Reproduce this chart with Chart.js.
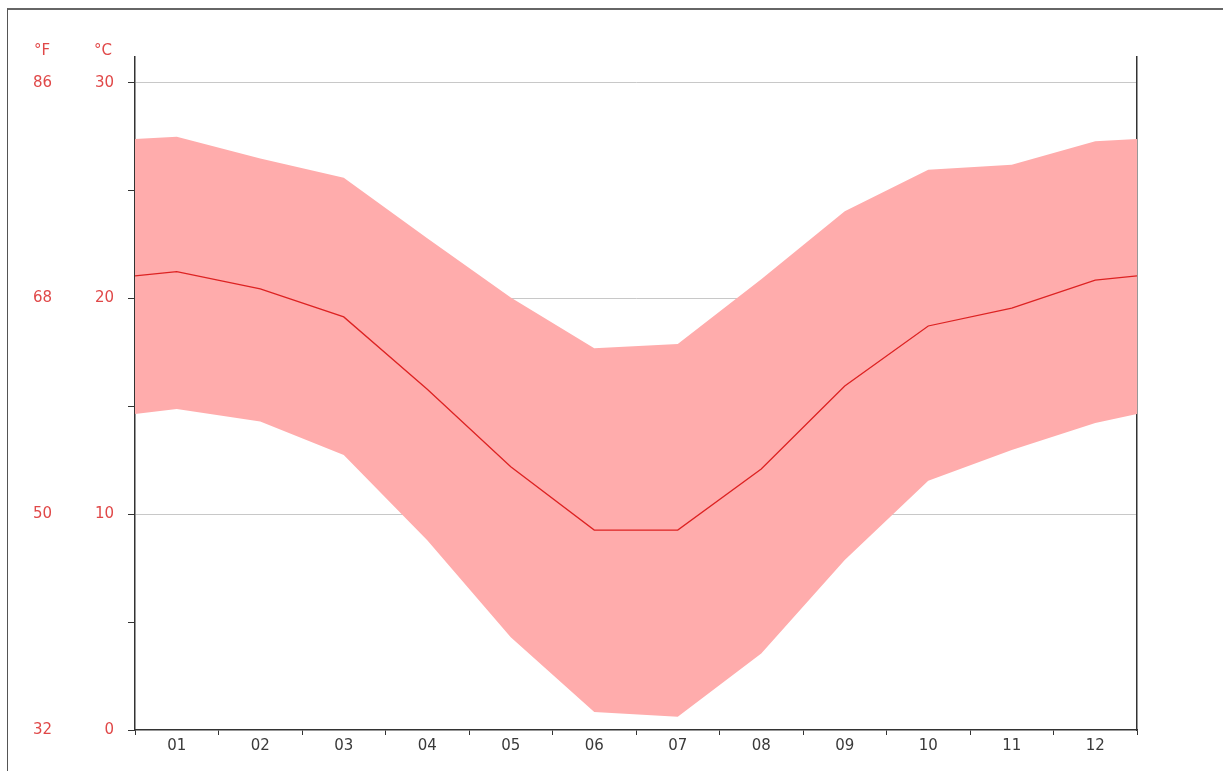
<!DOCTYPE html>
<html>
<head>
<meta charset="utf-8">
<script src="https://cdn.jsdelivr.net/npm/chart.js@4/dist/chart.umd.min.js"></script>
<style>
  html,body{margin:0;padding:0;background:#fff;}
  #wrap{position:relative;width:1223px;height:771px;overflow:hidden;}
  #frame{position:absolute;left:7px;top:8px;width:1300px;height:900px;border-left:1px solid #555;border-top:2px solid #666;}
  .unit{position:absolute;top:41px;font:15px "DejaVu Sans",sans-serif;color:#e04848;transform:translateX(-50%);}
</style>
</head>
<body>
<div id="wrap">
  <div id="frame"></div>
  <canvas id="c" width="1223" height="771"></canvas>
  <span class="unit" style="left:42px">°F</span>
  <span class="unit" style="left:103px">°C</span>
</div>
<script>
// month labels and climate values (°C)
const months=['01','02','03','04','05','06','07','08','09','10','11','12'];
const tMean=[21.25,20.45,19.15,15.8,12.2,9.27,9.27,12.1,15.95,18.73,19.56,20.86];
const tMax =[27.5,26.5,25.6,22.8,20.05,17.7,17.9,20.9,24.05,25.97,26.2,27.3];
const tMin =[14.88,14.3,12.75,8.8,4.3,0.83,0.62,3.55,7.88,11.55,12.98,14.23];
// values at the half-month edges of the plot
const edgeMean=21.05, edgeMax=27.4, edgeMin=14.65;
const cTicks=[0,5,10,15,20,25,30];
const cLabels=[0,10,20,30];
const fLabels=[32,50,68,86];

const cMax=31.2;                       // top of the axes, °C
const pts=(arr,edge)=>[{x:0.5,y:edge},...arr.map((v,i)=>({x:i+1,y:v})),{x:12.5,y:edge}];
const red='#e04848';
const fnt={family:'"DejaVu Sans", sans-serif',size:15};

new Chart(document.getElementById('c'),{
  type:'line',
  data:{datasets:[
    {data:pts(tMean,edgeMean),borderColor:'#dd2222',borderWidth:1.3,pointRadius:0,fill:false,tension:0},
    {data:pts(tMax,edgeMax),borderWidth:0,borderColor:'transparent',pointRadius:0,backgroundColor:'rgb(255,172,172)',fill:'+1',tension:0},
    {data:pts(tMin,edgeMin),borderWidth:0,borderColor:'transparent',pointRadius:0,fill:false,tension:0}
  ]},
  options:{
    responsive:false,animation:false,
    layout:{padding:{left:0,top:57,right:86,bottom:0}},
    plugins:{legend:{display:false},tooltip:{enabled:false}},
    scales:{
      x:{type:'linear',min:0.5,max:12.5,
        afterBuildTicks:s=>{s.ticks=[{value:0.5},...months.flatMap((m,i)=>[{value:i+1},{value:i+1.5}])];},
        afterFit:s=>{s.height=41;},
        ticks:{autoSkip:false,maxRotation:0,padding:2,color:'#3a3a3a',font:fnt,
          callback:v=>Number.isInteger(v)?months[v-1]:''},
        grid:{drawOnChartArea:false,tickLength:5,
          tickColor:c=>Number.isInteger(c.tick.value)?'transparent':'#333'},
        border:{color:'#333',width:1.5}
      },
      y:{type:'linear',position:'left',weight:0,min:0,max:cMax,
        afterBuildTicks:s=>{s.ticks=cTicks.map(v=>({value:v}));},
        afterFit:s=>{s.width=70;},
        ticks:{padding:14,color:red,font:fnt,callback:v=>cLabels.includes(v)?String(v):''},
        grid:{tickLength:7,tickColor:'#333',lineWidth:1,
          color:c=>(c.tick&&[10,20,30].includes(c.tick.value))?'#c8c8c8':'transparent'},
        border:{color:'#333',width:1.5}
      },
      yF:{type:'linear',position:'left',weight:1,min:32,max:32+cMax*1.8,
        afterBuildTicks:s=>{s.ticks=fLabels.map(v=>({value:v}));},
        afterFit:s=>{s.width=65;},
        ticks:{padding:5,color:red,font:fnt},
        grid:{display:false},
        border:{display:false}
      },
      yR:{type:'linear',position:'right',min:0,max:cMax,
        afterFit:s=>{s.width=0;},
        ticks:{display:false},
        grid:{display:false,drawTicks:false},
        border:{display:true,color:'#333',width:1.5}
      }
    }
  }
});
</script>
</body>
</html>
